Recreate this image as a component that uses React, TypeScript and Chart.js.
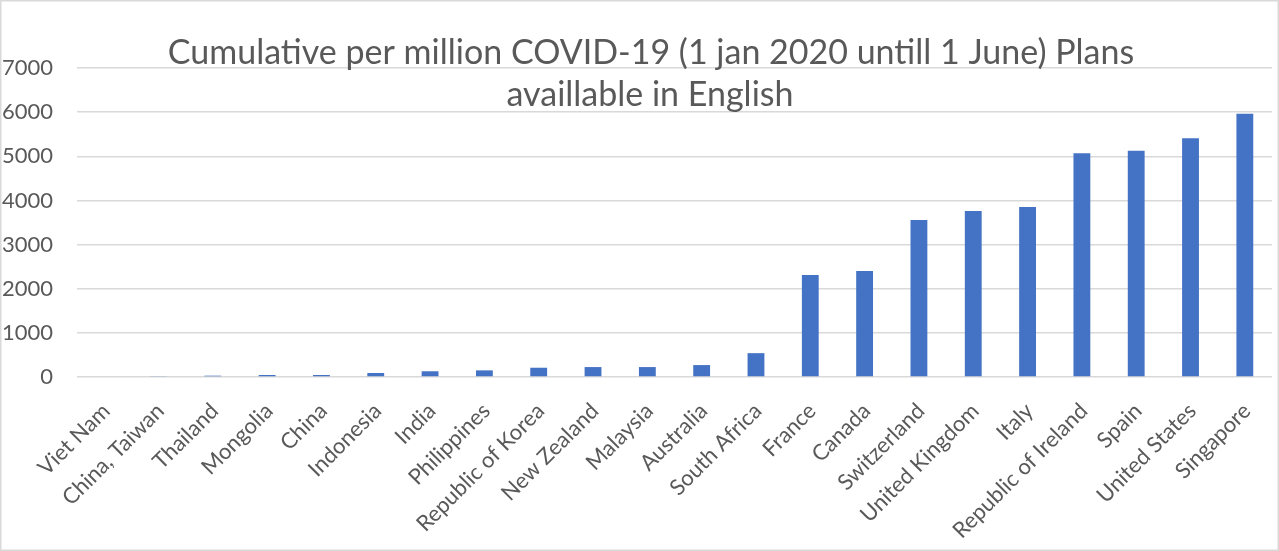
import React, { useEffect, useRef } from "react";
import { Chart, registerables } from "chart.js";

Chart.register(...registerables);

const categories = [
  "Viet Nam",
  "China, Taiwan",
  "Thailand",
  "Mongolia",
  "China",
  "Indonesia",
  "India",
  "Philippines",
  "Republic of Korea",
  "New Zealand",
  "Malaysia",
  "Australia",
  "South Africa",
  "France",
  "Canada",
  "Switzerland",
  "United Kingdom",
  "Italy",
  "Republic of Ireland",
  "Spain",
  "United States",
  "Singapore",
];

const values = [
  0, 20, 30, 45, 45, 90, 130, 150, 210, 225, 225, 270, 540, 2310, 2400, 3555,
  3760, 3850, 5068, 5127, 5407, 5963,
];

const yMin = 0;
const yMax = 7000;
const yStep = 1000;

const titleLines = [
  "Cumulative per million COVID-19 (1 jan 2020 untill 1 June) Plans",
  "availlable in English",
];

const FONT = "Lato, 'Open Sans', sans-serif";
const TEXT = "#595959";
const GRID = "#d9d9d9";

export default function App() {
  const ref = useRef<HTMLCanvasElement>(null);

  useEffect(() => {
    document.body.style.margin = "0";
    const canvas = ref.current!;
    const chart = new Chart(canvas, {
      type: "bar",
      data: {
        labels: categories,
        datasets: [
          {
            data: values,
            backgroundColor: "#4472C4",
            borderWidth: 0,
            categoryPercentage: 1,
            barPercentage: 0.31,
          },
        ],
      },
      options: {
        responsive: false,
        animation: false,
        devicePixelRatio: 1,
        layout: { padding: { top: 68, right: 7, bottom: 0, left: 0 } },
        plugins: {
          legend: { display: false },
          title: { display: false },
          tooltip: { enabled: false },
        },
        scales: {
          y: {
            min: yMin,
            max: yMax,
            ticks: {
              stepSize: yStep,
              color: TEXT,
              font: { family: FONT, size: 22 },
              padding: 24,
              callback: (v: any) => String(v),
            },
            grid: { color: GRID, lineWidth: 1.5, drawTicks: false },
            border: { display: false },
            afterFit: (s: any) => {
              s.width = 77;
            },
          },
          x: {
            ticks: {
              color: TEXT,
              font: { family: FONT, size: 22 },
              minRotation: 45,
              maxRotation: 45,
              autoSkip: false,
              padding: 13,
              labelOffset: 2,
            },
            grid: { display: false },
            border: { display: false },
            afterFit: (s: any) => {
              s.height = 174;
            },
          },
        },
      },
      plugins: [
        {
          id: "frameAndTitle",
          beforeDraw: (c: any) => {
            const ctx = c.ctx;
            ctx.save();
            ctx.fillStyle = "#ffffff";
            ctx.fillRect(0, 0, c.width, c.height);
            ctx.restore();
          },
          afterDraw: (c: any) => {
            const ctx = c.ctx;
            ctx.save();
            ctx.strokeStyle = GRID;
            ctx.lineWidth = 1.5;
            ctx.strokeRect(0.75, 0.75, c.width - 1.5, c.height - 1.5);
            ctx.fillStyle = TEXT;
            ctx.font = `34px ${FONT}`;
            ctx.textAlign = "center";
            ctx.textBaseline = "alphabetic";
            ctx.fillText(titleLines[0], 651, 64);
            ctx.fillText(titleLines[1], 650, 106);
            ctx.restore();
          },
        },
      ],
    });
    return () => chart.destroy();
  }, []);

  return <canvas ref={ref} width={1279} height={551} />;
}
